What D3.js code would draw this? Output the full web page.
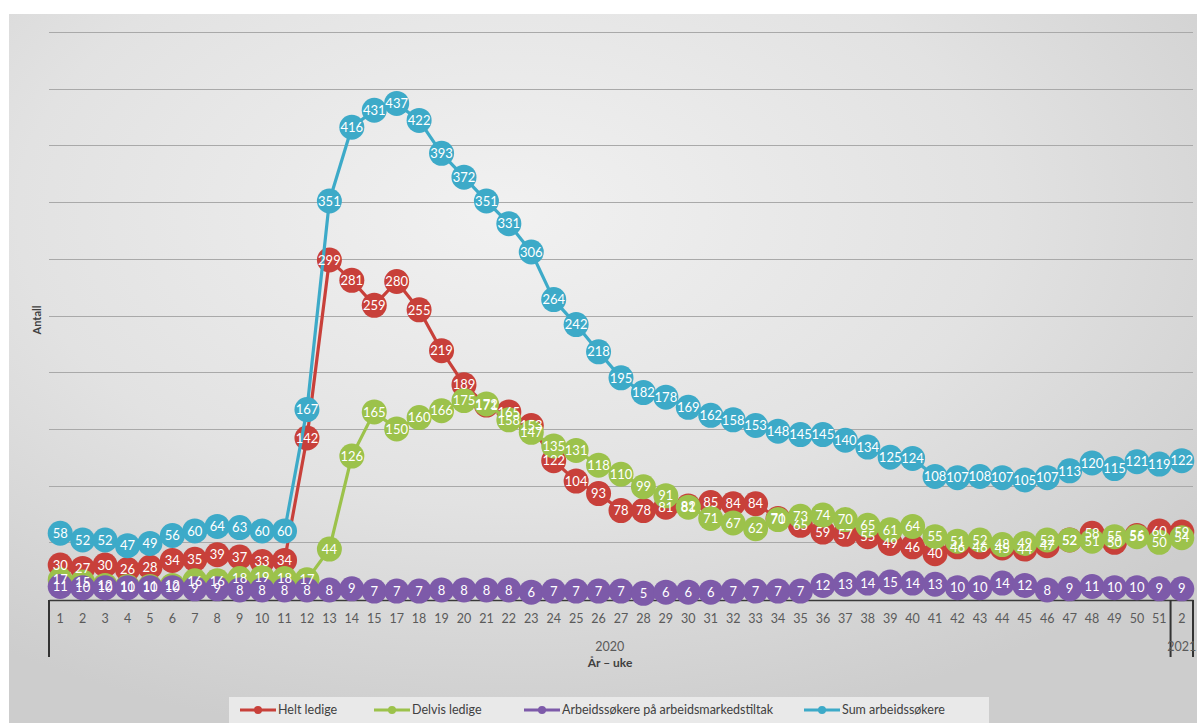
<!DOCTYPE html>
<html>
<head>
<meta charset="utf-8">
<script src="https://cdn.jsdelivr.net/npm/d3@7"></script>
<style>
  html, body { margin: 0; padding: 0; background: #ffffff; }
  svg { display: block; }
</style>
</head>
<body>
<svg id="chart" width="1197" height="723"></svg>
<script>
// ---- data ----
const weeks = ["1","2","3","4","5","6","7","8","9","10","11","12","13","14","15","17","18","19","20","21","22","23","24","25","26","27","28","29","30","31","32","33","34","35","36","37","38","39","40","41","42","43","44","45","46","47","48","49","50","51","2"];
const years = ["2020", "2021"];
const yearOfWeek = weeks.map((w, i) => i < weeks.length - 1 ? "2020" : "2021");

const heltLedige = [30,27,30,26,28,34,35,39,37,33,34,142,299,281,259,280,255,219,189,171,165,153,122,104,93,78,78,81,82,85,84,84,71,65,59,57,55,49,46,40,46,46,45,44,47,52,58,50,56,60,59];
const delvisLedige = [17,15,12,11,11,12,16,16,18,19,18,17,44,126,165,150,160,166,175,172,158,147,135,131,118,110,99,91,81,71,67,62,70,73,74,70,65,61,64,55,51,52,48,49,52,52,51,55,55,50,54];
const tiltak = [11,10,10,10,10,10,9,9,8,8,8,8,8,9,7,7,7,8,8,8,8,6,7,7,7,7,5,6,6,6,7,7,7,7,12,13,14,15,14,13,10,10,14,12,8,9,11,10,10,9,9];
const sumSokere = [58,52,52,47,49,56,60,64,63,60,60,167,351,416,431,437,422,393,372,351,331,306,264,242,218,195,182,178,169,162,158,153,148,145,145,140,134,125,124,108,107,108,107,105,107,113,120,115,121,119,122];

const seriesNames = ["Helt ledige", "Delvis ledige", "Arbeidssøkere på arbeidsmarkedstiltak", "Sum arbeidssøkere"];
const seriesColors = ["#c8403a", "#9cc24b", "#7d5aa9", "#3daac8"];
const seriesValues = [heltLedige, delvisLedige, tiltak, sumSokere];
const yTicks = [0, 50, 100, 150, 200, 250, 300, 350, 400, 450, 500];

// ---- layout ----
const svg = d3.select("#chart");
const W = 1197, H = 723;
const plot = { left: 49, right: 1193, top: 32, bottom: 599 };

// background
const defs = svg.append("defs");
const rg = defs.append("radialGradient").attr("id", "bg")
  .attr("cx", "0.42").attr("cy", "0.28").attr("r", "0.75");
rg.append("stop").attr("offset", "0%").attr("stop-color", "#f1f1f1");
rg.append("stop").attr("offset", "55%").attr("stop-color", "#e2e2e2");
rg.append("stop").attr("offset", "100%").attr("stop-color", "#cdcdcd");
svg.append("rect").attr("x", 0).attr("y", 0).attr("width", W).attr("height", H).attr("fill", "#ffffff");
svg.append("rect").attr("x", 9).attr("y", 14).attr("width", W - 9).attr("height", H - 14).attr("fill", "url(#bg)");

// scales
const x = d3.scaleBand().domain(d3.range(weeks.length)).range([plot.left, plot.right]).paddingInner(0).paddingOuter(0);
const cx = i => x(i) + x.bandwidth() / 2;
const y = d3.scaleLinear().domain([0, 500]).range([plot.bottom, plot.top]);

// gridlines
svg.append("g").selectAll("line").data(yTicks.filter(d => d > 0)).join("line")
  .attr("x1", plot.left).attr("x2", plot.right)
  .attr("y1", d => Math.round(y(d)) + 0.5).attr("y2", d => Math.round(y(d)) + 0.5)
  .attr("stroke", "#a9a9a9").attr("stroke-width", 1);

// x axis (week labels)
const xAxis = d3.axisBottom(x).tickFormat(i => weeks[i]).tickSize(0).tickPadding(14);
const gx = svg.append("g").attr("transform", `translate(0,${plot.bottom + 1})`).call(xAxis);
gx.select(".domain").attr("stroke", "#3a3a3a").attr("stroke-width", 1.5);
gx.selectAll("text").attr("font-family", "Lato, 'Open Sans', sans-serif").attr("font-size", 12.5).attr("fill", "#5a5a5a");

// year group separators
const yearBounds = years.map(yr => {
  const idx = yearOfWeek.map((v, i) => v === yr ? i : -1).filter(i => i >= 0);
  return { yr, x0: x(idx[0]), x1: x(idx[idx.length - 1]) + x.bandwidth() };
});
const sepXs = [yearBounds[0].x0, yearBounds[0].x1, yearBounds[1].x1];
svg.append("g").selectAll("line").data(sepXs).join("line")
  .attr("x1", d => d).attr("x2", d => d)
  .attr("y1", plot.bottom + 1).attr("y2", 657)
  .attr("stroke", "#333").attr("stroke-width", 2);
svg.append("g").selectAll("text").data(yearBounds).join("text")
  .attr("x", d => (d.x0 + d.x1) / 2).attr("y", 651)
  .attr("text-anchor", "middle")
  .attr("font-family", "Lato, 'Open Sans', sans-serif").attr("font-size", 12.5).attr("fill", "#5a5a5a")
  .text(d => d.yr);

// axis titles
svg.append("text").attr("x", (plot.left + 1171) / 2).attr("y", 667).attr("text-anchor", "middle")
  .attr("font-family", "Lato, sans-serif").attr("font-size", 12).attr("font-weight", "bold").attr("fill", "#404040")
  .text("År – uke");
svg.append("text").attr("transform", "translate(41,320) rotate(-90)").attr("text-anchor", "middle")
  .attr("font-family", "Lato, sans-serif").attr("font-size", 11).attr("font-weight", "bold").attr("fill", "#404040")
  .text("Antall");

// series lines + markers
const line = d3.line().x((d, i) => cx(i)).y(d => y(d));
seriesValues.forEach((vals, s) => {
  const g = svg.append("g");
  g.append("path").datum(vals).attr("d", line)
    .attr("fill", "none").attr("stroke", seriesColors[s]).attr("stroke-width", 3.2)
    .attr("stroke-linejoin", "round");
  g.selectAll("circle").data(vals).join("circle")
    .attr("cx", (d, i) => cx(i)).attr("cy", d => y(d)).attr("r", 12.5)
    .attr("fill", seriesColors[s]);
});
// data labels on top
seriesValues.forEach((vals, s) => {
  svg.append("g").selectAll("text").data(vals).join("text")
    .attr("x", (d, i) => cx(i)).attr("y", d => y(d)).attr("dy", "0.36em")
    .attr("text-anchor", "middle")
    .attr("font-family", "Lato, 'Open Sans', sans-serif").attr("font-size", 13)
    .attr("fill", "#ffffff")
    .text(d => d);
});

// legend
svg.append("rect").attr("x", 229).attr("y", 697).attr("width", 760).attr("height", 26).attr("fill", "#e9e9e9");
const legendX = [240, 374, 524, 804];
seriesNames.forEach((name, s) => {
  const g = svg.append("g").attr("transform", `translate(${legendX[s]},710)`);
  g.append("line").attr("x1", 0).attr("x2", 36).attr("y1", 0).attr("y2", 0)
    .attr("stroke", seriesColors[s]).attr("stroke-width", 3);
  g.append("circle").attr("cx", 18).attr("cy", 0).attr("r", 4).attr("fill", seriesColors[s]);
  g.append("text").attr("x", 38).attr("y", 0).attr("dy", "0.35em")
    .attr("font-family", "Lato, sans-serif").attr("font-size", 12.5).attr("fill", "#404040")
    .text(name);
});
</script>
</body>
</html>
